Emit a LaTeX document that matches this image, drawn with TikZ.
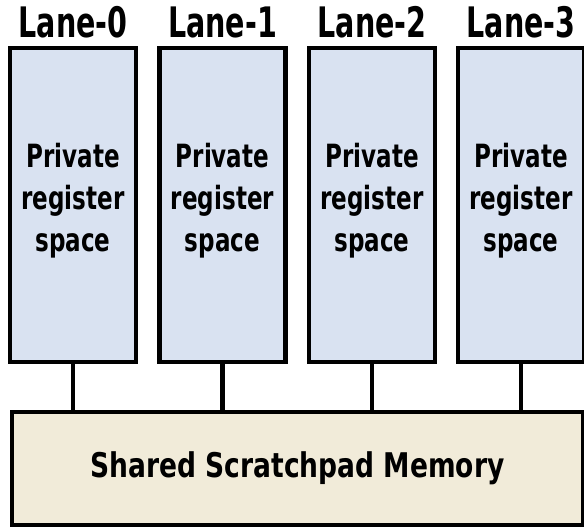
\documentclass[tikz,border=0pt]{standalone}
\usepackage{fontspec}
\setmainfont{DejaVu Sans}[FakeStretch=0.72]
\newfontfamily\sharedfont{DejaVu Sans}[FakeStretch=0.78]
\newfontfamily\lanefont{DejaVu Sans}[FakeStretch=0.68]
\definecolor{laneblue}{HTML}{D9E2F1}
\definecolor{sharedbeige}{HTML}{F1EBD9}
\begin{document}
\begin{tikzpicture}[x=1pt,y=-1pt,
  lanebox/.style={draw=black, line width=4.5pt, fill=laneblue, minimum width=126pt, minimum height=314pt, inner sep=0pt, outer sep=0pt, anchor=north west},
  lanetext/.style={font=\fontsize{32}{42}\selectfont\bfseries, align=center, inner sep=0pt},
  lanelabel/.style={font=\lanefont\fontsize{42}{45}\selectfont\bfseries, anchor=base, inner sep=0pt},
  sharedbox/.style={draw=black, line width=4.5pt, fill=sharedbeige, minimum width=571pt, minimum height=113pt, inner sep=0pt, outer sep=0pt, anchor=north west,
    font=\sharedfont\fontsize{34}{40}\selectfont\bfseries},
  link/.style={line width=4.5pt}]
\useasboundingbox (0,0) rectangle (584,529);
\node[sharedbox] (sh) at (12,412) {Shared Scratchpad Memory};
\foreach \i/\x in {0/10,1/159.5,2/309,3/458} {
  \node[lanebox] (b\i) at (\x,48) {};
  \node[lanetext] (t\i) at ([yshift=4pt]b\i.center) {Private\\register\\space};
  \node[lanelabel] (l\i) at ([yshift=10pt]b\i.north) {Lane-\i};
  \coordinate (c\i) at (b\i.south |- sh.north);
  \draw[link] (b\i.south) -- (c\i);
}
\end{tikzpicture}
\end{document}
